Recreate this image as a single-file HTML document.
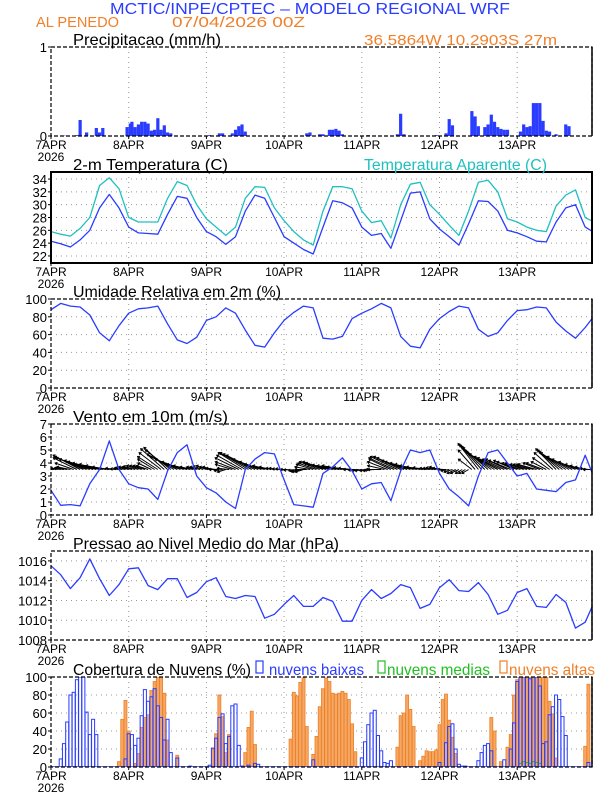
<!DOCTYPE html>
<html><head><meta charset="utf-8"><style>
html,body{margin:0;padding:0;background:#fff;}
svg{display:block;font-family:"Liberation Sans",sans-serif;}
</style></head><body>
<svg id="chart" width="612" height="792" viewBox="0 0 612 792" xmlns="http://www.w3.org/2000/svg">
<text x="110" y="14" font-size="16" fill="#2a3cff" textLength="400" lengthAdjust="spacingAndGlyphs">MCTIC/INPE/CPTEC – MODELO REGIONAL WRF</text>
<text x="36" y="27" font-size="15" fill="#f0802a" textLength="83" lengthAdjust="spacingAndGlyphs">AL PENEDO</text>
<text x="172" y="27" font-size="15" fill="#f0802a" textLength="133" lengthAdjust="spacingAndGlyphs">07/04/2026 00Z</text>
<text x="364" y="45" font-size="15" fill="#f0802a" textLength="193" lengthAdjust="spacingAndGlyphs">36.5864W 10.2903S 27m</text>
<g id="g"></g>
</svg>
<script>
// ---- data ----
const days = ["7APR","8APR","9APR","10APR","11APR","12APR","13APR"];
const tempHours = [0,3,6,9,12,15,18,21,24,27,30,33,36,39,42,45,48,51,54,57,60,63,66,69,72,75,78,81,84,87,90,93,96,99,102,105,108,111,114,117,120,123,126,129,132,135,138,141,144,147,150,153,156,159,162,165,168];
const temp2m = [24.3,23.9,23.4,24.5,26,29.5,31.6,29.5, 26.5,25.6,25.5,25.4,28.5,31.3,31,28, 25.8,25,23.8,25,29,31.5,31,28, 25,24,23,22.3,26.5,30.6,30.3,29.5, 26.5,25.2,25.5,23.2,27.5,31.8,32,27.8, 26.2,25,23.7,27,30.6,30.5,29,26, 25.6,25,24.3,24.2,27.3,29.5,30,26.5,25.6];
const tempApparent = [25.8,25.4,25.1,26.3,28,33,34.2,32.5, 28,27.3,27.3,27.3,31,33.6,33,30, 27.8,26.5,25.2,26.5,31,32.8,32.7,29.5, 27.5,25.8,24.5,23.7,29,32.8,32.8,32.5, 29,27.2,27.5,24.8,30,33.2,33.5,30, 28.5,26.8,25.2,29,33.5,33.8,32,27.8, 27.3,26.5,26,25.8,29.8,31.5,32.3,28,27.2];
const humidity = [88,95,92,91,82,62,53,70, 84,89,90,92,72,54,50,57, 76,80,90,84,65,48,46,62, 76,85,92,90,56,55,58,78, 84,89,95,90,58,47,45,66, 78,86,92,90,66,58,62,76, 87,88,91,90,74,64,56,68,82];
const windSpeed = [1.9,0.75,0.8,0.7,2.4,3.5,5.7,3.5, 2.4,2.1,2.0,1.2,3.4,4.8,5.4,3, 2.1,1.7,1.0,0.5,3.5,4.3,4.8,4.7, 2.7,0.8,0.7,0.6,3.2,3.7,4.4,3.4, 2.0,2.4,2.5,1.1,3.4,5.0,4.8,5.0, 3.2,2.0,1.4,0.7,3.0,4.8,5.0,4.0, 3.0,3.2,2.0,1.9,1.8,2.5,2.7,4.6,2.7];
const windU = [
-0.6,-0.6,-0.6,-0.6,-0.6,-0.7,-0.8,-1.1,-1.4,-1.6,-1.7,-1.8,-1.8,-1.7,-1.7,-1.6,-1.4,-1.2,-1.0,-0.8,-0.6,-0.5,-0.5,-0.6,
-0.6,-0.6,-0.7,-0.7,-0.7,-0.7,-0.7,-0.8,-1.0,-1.2,-1.3,-1.4,-1.4,-1.5,-1.6,-1.6,-1.5,-1.3,-1.2,-1.0,-0.8,-0.6,-0.6,-0.6,
-0.6,-0.6,-0.6,-0.6,-0.6,-0.5,-0.5,-0.7,-1.0,-1.2,-1.4,-1.5,-1.6,-1.7,-1.7,-1.7,-1.5,-1.3,-1.2,-0.9,-0.7,-0.5,-0.5,-0.5,
-0.5,-0.4,-0.4,-0.3,-0.4,-0.5,-0.5,-0.7,-0.9,-1.0,-1.1,-1.2,-1.2,-1.3,-1.4,-1.5,-1.4,-1.3,-1.2,-1.1,-0.9,-0.8,-0.7,-0.6,
-0.6,-0.6,-0.5,-0.5,-0.6,-0.7,-0.8,-1.0,-1.2,-1.3,-1.5,-1.6,-1.6,-1.6,-1.5,-1.5,-1.4,-1.3,-1.2,-1.0,-0.8,-0.6,-0.6,-0.6,
-0.6,-0.6,-0.5,-0.5,-0.5,-0.5,-0.5,-0.4,-0.4,-0.4,-0.8,-1.0,-1.2,-1.3,-1.4,-1.5,-1.5,-1.5,-1.4,-1.4,-1.3,-1.3,-1.3,-1.2,
-1.2,-1.1,-1.1,-1.0,-1.0,-1.0,-1.1,-1.0,-1.0,-0.9,-1.0,-1.1,-1.2,-1.3,-1.4,-1.5,-1.3,-1.2,-1.0,-0.8,-0.7,-0.6,-0.5,-0.5];
const windV = [
0.1,0.1,0.1,0.1,0.1,0.15,0.2,0.5,0.9,1.1,1.0,0.9,0.8,0.7,0.6,0.5,0.4,0.3,0.2,0.1,0.1,0.05,0.1,0.15,
0.2,0.2,0.25,0.3,0.3,0.3,0.3,0.5,0.8,1.0,1.3,1.6,1.7,1.5,1.2,1.0,0.8,0.6,0.4,0.3,0.2,0.2,0.2,0.25,
0.3,0.2,0.2,0.1,0.0,-0.1,-0.2,0.1,0.4,0.6,0.9,1.1,1.3,1.3,1.2,1.1,0.8,0.6,0.4,0.3,0.2,0.1,0.1,0.05,
0.05,0,-0.05,-0.1,-0.15,-0.2,-0.2,0.0,0.2,0.4,0.5,0.6,0.6,0.5,0.5,0.4,0.35,0.3,0.3,0.2,0.15,0.1,0.0,-0.05,
-0.1,-0.1,-0.1,-0.1,-0.05,0,0,0.3,0.6,0.8,0.9,1.0,1.0,0.9,0.7,0.6,0.5,0.4,0.3,0.2,0.15,0.1,0.1,0.15,
0.2,0.1,0,-0.1,-0.2,-0.3,-0.3,-0.3,-0.3,-0.3,0.8,1.5,2.0,1.9,1.8,1.7,1.4,1.2,1.0,0.9,0.8,0.8,0.7,0.7,
0.6,0.5,0.5,0.4,0.4,0.4,0.4,0.5,0.5,0.6,0.9,1.3,1.6,1.5,1.4,1.3,1.0,0.8,0.6,0.4,0.3,0.2,0.1,0];
const pressure = [1015.5,1014.6,1013.2,1014.3,1016.2,1014.2,1012.5,1013.6, 1015.2,1015.3,1013.5,1013.1,1014.2,1014.2,1012.3,1012.8, 1013.9,1014.3,1012.4,1012.2,1012.5,1012.4,1010.2,1010.6, 1011.6,1012.5,1011.4,1011.4,1012.3,1011.9,1009.9,1009.9, 1012,1013.1,1012.2,1012.7,1013.6,1013.3,1011.2,1011.6, 1013.3,1014.1,1013.0,1012.9,1013.8,1012.6,1010.6,1011.0, 1012.8,1013.2,1011.4,1011.3,1012.6,1011.8,1009.2,1009.8,1012];
const precipHours = [4,8,9,11,14,15,16,20,22,23.5,24.5,25,26,27,28,29,30,31,32,33,34,35,36,37,49,52,53,56,57,58,59,60,79,80,83,84,86,87,88,89,90,98,107,108,109,119,122,123,124,130,131,132,134,135,136,137,138,139,140,141,145,146,147,148,149,150,151,152,153,154,156,159,160];
const precipValues = [0.005,0.01,0.18,0.04,0.09,0.04,0.09,0.005,0.005,0.1,0.14,0.16,0.1,0.13,0.16,0.16,0.14,0.06,0.07,0.2,0.07,0.12,0.04,0.03,0.01,0.03,0.03,0.03,0.07,0.11,0.13,0.05,0.03,0.04,0.02,0.02,0.07,0.07,0.08,0.06,0.02,0.01,0.02,0.25,0.02,0.01,0.03,0.19,0.12,0.28,0.22,0.11,0.1,0.13,0.24,0.16,0.1,0.08,0.07,0.07,0.05,0.13,0.1,0.11,0.37,0.37,0.37,0.17,0.06,0.05,0.02,0.13,0.11];
const lowHours = [3,4,5,6,7,8,9,10,11,12,13,14,23,24,25,26,27,28,29,30,31,32,33,34,35,36,37,39,43,49,50,51,52,53,54,55,56,57,58,59,61,63,64,81,96,97,98,99,100,101,102,103,104,105,120,122,123,124,125,126,127,128,132,133,134,135,136,140,142,143,144,145,146,147,148,149,150,151,152,153,154,155,156,157,158,159,166];
const lowValues = [9,26,50,80,83,97,100,100,61,36,53,36,9,37,36,24,32,57,86,73,78,87,68,55,30,53,16,10,1,2,21,32,55,59,26,34,68,70,24,1,2,4,3,8,10,28,47,60,63,35,18,5,4,7,5,27,45,48,20,3,1,1,7,16,24,26,18,8,20,49,95,100,100,100,98,100,100,90,26,28,58,67,80,75,56,35,5];
const midHours = [145,146,147,148,149,150,151];
const midValues = [4,6,5,4,6,5,4];
const highHours = [21,22,23,24,26,27,28,29,30,31,32,33,34,35,36,39,50,51,52,53,54,55,59,60,61,62,63,74,75,76,77,78,79,81,82,83,84,85,86,87,88,89,90,91,92,93,94,107,108,109,110,111,112,114,115,116,117,118,119,120,121,122,123,124,125,136,137,139,141,142,143,144,145,146,147,148,149,150,151,152,153,154,155,156,165,166];
const highValues = [6,53,74,40,4,15,44,55,58,85,95,100,100,82,30,13,20,37,80,56,16,36,1,16,44,62,25,31,83,79,94,99,45,14,34,67,87,99,95,82,81,82,84,82,75,48,17,22,57,60,80,64,45,7,12,18,17,17,19,47,75,81,52,33,15,55,40,6,22,36,80,97,100,100,100,100,100,100,100,100,100,73,59,10,23,92];

// ---- layout helpers ----
const NS = "http://www.w3.org/2000/svg";
const G = document.getElementById("g");
const X0 = 51, X1 = 592, PXH = 77.7/24;
const xOf = h => X0 + h*PXH;
function mk(tag, attrs, parent){ const e=document.createElementNS(NS,tag); for(const k in attrs) e.setAttribute(k,attrs[k]); (parent||G).appendChild(e); return e; }
function txt(s,x,y,attrs,parent){ const e=mk("text",Object.assign({x:x,y:y},attrs),parent); e.textContent=s; return e; }

function panel(name, top, bot, vmin, vmax, ticks, grid, solidFrame){
  const yOf = v => bot - (v-vmin)/(vmax-vmin)*(bot-top);
  const g = mk("g",{});
  
  
  const cid = name+"-clip";
  const cp = mk("clipPath",{id:cid},g); mk("rect",{x:X0,y:top,width:X1-X0,height:bot-top},cp);
  for(let d=1; d<days.length; d++){
    const l = mk("line",{x1:xOf(d*24),x2:xOf(d*24),y1:top,y2:bot,stroke:"#999","stroke-width":1,"stroke-dasharray":"1,4"},g);
    
    
  }
  ticks.forEach(t=>{
    if(grid && t>vmin && t<vmax){
      const l = mk("line",{x1:X0,x2:X1,y1:yOf(t),y2:yOf(t),stroke:"#999","stroke-width":1,"stroke-dasharray":"1,4"},g);
      
      
    }
    mk("line",{x1:X0-3,x2:X0,y1:yOf(t),y2:yOf(t),stroke:"#000"},g);
    const lb = txt(String(t), X0-4, yOf(t)+5, {"text-anchor":"end","font-size":13,fill:"#000"}, g);
    
    
  });
  days.forEach((d,i)=>{
    mk("line",{x1:xOf(i*24),x2:xOf(i*24),y1:bot,y2:bot+3,stroke:"#000"},g);
    const lb = txt(d, xOf(i*24), bot+13, {"text-anchor":"middle","font-size":12,fill:"#000"}, g);
    
    
  });
  const yr = txt("2026", X0, bot+25, {"text-anchor":"middle","font-size":12,fill:"#000"}, g);
  
  
  const body = mk("g",{"clip-path":"url(#"+cid+")"},g);
  const frameAttrs = solidFrame ? {stroke:"#000","stroke-width":2,fill:"none"} : {stroke:"#000","stroke-width":1.2,fill:"none","stroke-dasharray":"4,2"};
  const fr = mk("rect",Object.assign({x:X0,y:top,width:X1-X0,height:bot-top},frameAttrs),g);
  
  
  if(!solidFrame) mk("line",{x1:X1,x2:X1,y1:top,y2:bot,stroke:"#000","stroke-width":1.5},g);
  return {g:g, body:body, yOf:yOf};
}
function line(p, hours, vals, color, name){
  const d = hours.map((h,i)=>(i?"L":"M")+xOf(h).toFixed(1)+","+p.yOf(vals[i]).toFixed(1)).join(" ");
  const e = mk("path",{d:d,fill:"none",stroke:color,"stroke-width":1.3,"stroke-linejoin":"round"},p.body);
  
  
}
function title(s,x,y,color,name,len){
  const e = txt(s,x,y,{"font-size":16,fill:color,textLength:len,lengthAdjust:"spacingAndGlyphs"});
  
  
  return e;
}

// Panel 1: precipitation
const p1 = panel("precip",47,136,0,1,[0,1],false,false);
title("Precipitacao (mm/h)",73,45,"#000","precip-title",148);
precipHours.forEach((h,i)=>{
  const y = p1.yOf(precipValues[i]);
  const r = mk("rect",{x:xOf(h)-1.6,y:y,width:3.2,height:p1.yOf(0)-y,fill:"#2a3cff"},p1.body);
  
  
});

// Panel 2: temperature
const p2 = panel("temp",172,263,20.9,35.1,[22,24,26,28,30,32,34],true,true);
title("2-m Temperatura (C)",73,170,"#000","temp-title",155);
title("Temperatura Aparente (C)",364,170,"#20c0c0","apparent-temp-legend",183);
line(p2,tempHours,tempApparent,"#20c0c0","apparent-temp-line");
line(p2,tempHours,temp2m,"#2a3cff","temp-line");

// Panel 3: humidity
const p3 = panel("humidity",299,388,0,100,[0,20,40,60,80,100],true,false);
title("Umidade Relativa em 2m (%)",73,297,"#000","humidity-title",208);
line(p3,tempHours,humidity,"#2a3cff","humidity-line");

// Panel 4: wind
const p4 = panel("wind",424,515,0,7,[0,1,2,3,4,5,6,7],true,false);
title("Vento em 10m (m/s)",73,422,"#000","wind-title",155);
const unitPx = (515-424)/7;
windU.forEach((u,h)=>{
  const x0 = xOf(h), y0 = p4.yOf(3.5);
  const x1 = x0 + u*unitPx*1.3, y1 = y0 - windV[h]*unitPx;
  const a = Math.atan2(y1-y0, x1-x0);
  const hd = 2.5;
  const d = "M"+x0.toFixed(1)+","+y0.toFixed(1)+" L"+x1.toFixed(1)+","+y1.toFixed(1)+
    " M"+(x1-hd*Math.cos(a-0.6)).toFixed(1)+","+(y1-hd*Math.sin(a-0.6)).toFixed(1)+" L"+x1.toFixed(1)+","+y1.toFixed(1)+
    " L"+(x1-hd*Math.cos(a+0.6)).toFixed(1)+","+(y1-hd*Math.sin(a+0.6)).toFixed(1);
  const e = mk("path",{d:d,stroke:"#000","stroke-width":1,fill:"none"},p4.body);
  
  
});
line(p4,tempHours,windSpeed,"#2a3cff","wind-speed-line");

// Panel 5: pressure
const p5 = panel("pressure",551,640,1008,1017,[1008,1010,1012,1014,1016],true,false);
title("Pressao ao Nivel Medio do Mar (hPa)",73,549,"#000","pressure-title",266);
line(p5,tempHours,pressure,"#2a3cff","pressure-line");

// Panel 6: clouds
const p6 = panel("clouds",677,767,0,100,[0,20,40,60,80,100],true,false);
title("Cobertura de Nuvens (%)",73,675,"#000","clouds-title",178);
function legend(x,tx,len,label,color,name){
  const r = mk("rect",{x:x,y:661,width:7,height:12,fill:"none",stroke:color,"stroke-width":1.2});
  
  
  title(label,tx,675,color,name,len);
}
legend(256,269,95,"nuvens baixas","#2a3cff","legend-low-clouds");
legend(378,387,103,"nuvens medias","#20c020","legend-mid-clouds");
legend(500,509,86,"nuvens altas","#f0802a","legend-high-clouds");
highHours.forEach((h,i)=>{
  const y = p6.yOf(highValues[i]);
  const r = mk("rect",{x:xOf(h)-1.5,y:y,width:3,height:p6.yOf(0)-y,fill:"#f4a868",stroke:"#f07f20","stroke-width":0.8},p6.body);
  
  
});
midHours.forEach((h,i)=>{
  const y = p6.yOf(midValues[i]);
  const r = mk("rect",{x:xOf(h)-1.5,y:y,width:3,height:p6.yOf(0)-y,fill:"none",stroke:"#20c020","stroke-width":1},p6.body);
  
  
});
lowHours.forEach((h,i)=>{
  const y = p6.yOf(lowValues[i]);
  const r = mk("rect",{x:xOf(h)-1.5,y:y,width:3,height:p6.yOf(0)-y,fill:"none",stroke:"#2a3cff","stroke-width":1},p6.body);
  
  
});
mk("line",{x1:X0,x2:X1,y1:p6.yOf(0),y2:p6.yOf(0),stroke:"#2a3cff","stroke-width":1.5},p6.body);
</script>
</body></html>
